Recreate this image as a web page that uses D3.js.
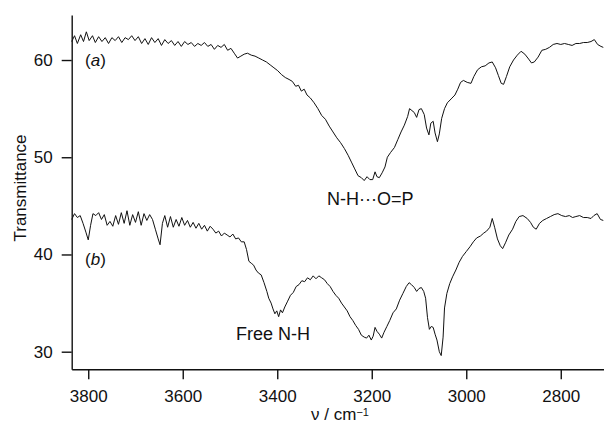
<html>
<head>
    <script src="https://d3js.org/d3.v7.min.js"></script>
    <style>
        body { margin: 0; background: #fff; }
        svg text {
            font-family: "Liberation Sans", Arial, Helvetica, sans-serif;
            fill: #111;
        }
        .axis path, .axis line { stroke: #111; stroke-width: 1.4; }
        .axis text { font-size: 17px; }
        .spec { fill: none; stroke: #111; stroke-width: 1; }
    </style>
</head>
<body>
<script>
        // wavenumber (cm-1) / transmittance pairs
        var waveA = [3835,3829,3823,3816,3810,3804,3798,3791,3785,3778,3771,3764,3757,3750,3743,3736,3729,3722,3715,3708,3701,3694,3687,3680,3673,3666,3659,3652,3645,3638,3631,3624,3617,3610,3603,3596,3589,3582,3575,3568,3561,3554,3547,3540,3533,3526,3519,3512,3505,3498,3491,3484,3477,3470,3463,3455,3447,3439,3431,3423,3415,3407,3399,3391,3383,3375,3368,3361,3355,3349,3343,3337,3330,3322,3314,3306,3298,3290,3282,3274,3266,3258,3250,3243,3236,3229,3222,3216,3210,3204,3198,3193,3189,3184,3178,3172,3167,3160,3152,3145,3138,3131,3124,3120,3115,3110,3105,3100,3095,3089,3084,3079,3075,3070,3066,3061,3057,3052,3046,3040,3032,3024,3018,3012,3006,2998,2990,2984,2976,2968,2960,2952,2945,2938,2932,2926,2921,2915,2908,2900,2892,2884,2876,2868,2862,2856,2848,2840,2832,2824,2816,2808,2800,2792,2784,2776,2768,2760,2752,2744,2736,2729,2722,2715,2710];
        var transA = [61.9,62.5,61.7,62.6,61.9,62.9,62.0,62.5,61.8,62.4,61.9,62.3,61.7,62.3,62.0,62.4,61.8,62.3,62.1,62.5,62.0,62.4,61.7,62.2,61.6,62.3,61.8,62.2,61.5,62.1,61.7,62.0,61.5,61.9,61.4,61.9,61.6,61.8,61.4,61.7,61.5,61.8,61.4,61.6,61.1,61.5,61.3,61.6,61.0,61.2,60.7,60.2,60.4,60.6,60.7,60.5,60.4,60.2,60.0,59.8,59.5,59.2,58.9,58.5,58.2,58.0,57.8,57.3,57.4,56.8,57.0,56.4,56.1,55.6,55.0,54.3,53.9,53.2,52.6,52.0,51.5,50.9,50.2,49.5,48.8,48.1,47.9,47.6,48.0,47.7,47.7,48.5,48.0,47.9,48.4,49.0,50.0,50.5,51.0,51.8,52.6,53.3,54.2,55.0,54.8,54.6,54.1,54.9,55.0,54.4,53.0,52.3,53.5,53.7,52.5,51.6,52.4,54.0,55.0,55.6,56.0,56.4,57.0,57.7,57.9,57.7,57.6,58.3,59.0,59.3,59.4,59.7,59.8,59.2,58.4,57.6,57.5,58.3,59.3,60.0,60.5,60.9,60.6,60.1,59.7,59.8,60.3,61.0,61.1,61.3,61.6,61.7,61.6,61.7,61.6,61.5,61.7,61.7,61.8,61.8,61.9,62.1,61.6,61.4,61.3];

        var waveB = [3835,3829,3823,3817,3811,3805,3800,3795,3790,3784,3778,3772,3766,3760,3754,3748,3742,3736,3730,3724,3718,3712,3706,3700,3694,3688,3682,3676,3670,3664,3658,3652,3648,3643,3638,3632,3626,3620,3614,3608,3602,3596,3590,3584,3578,3572,3566,3560,3554,3548,3542,3536,3530,3524,3518,3512,3506,3500,3494,3488,3482,3476,3470,3465,3460,3455,3450,3445,3440,3434,3428,3422,3418,3413,3409,3405,3401,3397,3393,3389,3384,3378,3372,3366,3360,3354,3348,3342,3336,3330,3324,3318,3312,3306,3300,3294,3288,3282,3276,3270,3264,3258,3252,3246,3240,3234,3228,3222,3216,3211,3206,3201,3197,3193,3189,3184,3179,3174,3168,3162,3155,3148,3141,3134,3127,3121,3116,3110,3105,3100,3095,3090,3086,3082,3078,3074,3070,3066,3062,3057,3053,3049,3046,3041,3035,3029,3022,3015,3008,3000,2992,2985,2978,2970,2963,2957,2950,2945,2940,2934,2928,2923,2917,2910,2902,2895,2888,2880,2871,2864,2858,2852,2845,2838,2830,2822,2814,2806,2798,2790,2782,2775,2768,2760,2752,2744,2736,2730,2723,2716,2710];
        var transB = [43.6,44.2,43.8,44.0,43.2,42.3,41.5,43.0,44.2,44.0,44.3,43.6,44.1,43.0,43.4,42.9,44.0,43.1,44.3,43.2,44.5,43.0,44.1,43.3,44.4,43.0,44.2,43.5,44.1,43.6,42.6,41.6,41.0,43.2,44.0,42.8,43.9,42.8,43.6,42.9,43.8,43.0,43.5,42.8,43.3,42.7,43.2,42.6,43.0,42.4,42.9,42.6,42.2,42.4,41.9,42.2,42.0,41.8,42.1,41.6,41.7,41.3,41.3,40.5,39.3,39.1,38.9,38.4,38.1,37.9,37.1,36.2,35.5,35.0,34.4,33.9,34.2,33.6,34.3,34.0,34.6,35.2,35.8,36.1,36.7,36.9,37.3,37.2,37.6,37.4,37.8,37.5,37.8,37.6,37.4,37.0,36.7,36.2,35.8,35.5,35.0,34.6,34.2,33.6,33.2,32.7,32.3,31.7,31.5,31.4,31.7,31.2,31.6,32.5,32.1,31.8,31.4,32.0,32.6,33.2,34.0,34.4,35.3,36.0,36.7,37.1,36.9,36.6,36.2,36.5,36.6,36.2,35.5,33.5,32.3,32.6,32.5,31.8,31.2,30.0,29.6,31.5,34.5,36.0,37.0,37.7,38.4,39.2,39.8,40.3,40.8,41.3,41.7,41.9,42.2,42.4,42.8,43.7,42.8,41.6,40.9,40.6,41.2,42.0,42.6,43.4,43.9,44.0,43.7,43.3,42.8,42.6,43.2,43.5,43.7,43.9,44.1,44.2,44.0,43.9,44.0,43.8,43.9,44.0,43.8,43.8,43.7,44.0,44.2,43.6,43.5];

        var xTicks = [3800, 3600, 3400, 3200, 3000, 2800];
        var yTicks = [30, 40, 50, 60];

        var width = 604, height = 423;
        var plotLeft = 71.7, plotTop = 15, plotRight = 604, plotBottom = 369.3;

        var svg = d3.select("body").append("svg")
            .attr("width", width)
            .attr("height", height);

        var x = d3.scaleLinear().domain([3835, 2708.5]).range([plotLeft, plotRight]);
        var y = d3.scaleLinear().domain([28.19, 64.63]).range([plotBottom, plotTop]);

        var line = d3.line()
            .x(function(d) { return x(d[0]); })
            .y(function(d) { return y(d[1]); });

        svg.append("path").attr("class", "spec")
            .attr("d", line(d3.zip(waveA, transA)));
        svg.append("path").attr("class", "spec")
            .attr("d", line(d3.zip(waveB, transB)));

        svg.append("g").attr("class", "axis")
            .attr("transform", "translate(0," + plotBottom + ")")
            .call(d3.axisBottom(x).tickValues(xTicks).tickSize(10).tickSizeOuter(0).tickPadding(10.5).tickFormat(d3.format("d")));

        svg.append("g").attr("class", "axis")
            .attr("transform", "translate(" + plotLeft + ",0)")
            .call(d3.axisLeft(y).tickValues(yTicks).tickSize(10).tickSizeOuter(0).tickPadding(9));

        svg.selectAll(".axis text").style("font-family", "'Liberation Sans', Arial, sans-serif");

        // axis titles
        svg.append("text")
            .attr("transform", "translate(26,188) rotate(-90)")
            .attr("text-anchor", "middle")
            .style("font-size", "17px")
            .text("Transmittance");

        var xl = svg.append("text")
            .attr("x", 340).attr("y", 420)
            .attr("text-anchor", "middle")
            .style("font-size", "17px");
        xl.append("tspan").text("ν / cm");
        xl.append("tspan").attr("dy", -4).style("font-size", "11px").text("−1");

        // annotations
        var a = svg.append("text").attr("x", 85).attr("y", 66).style("font-size", "17px");
        a.append("tspan").text("(");
        a.append("tspan").style("font-style", "italic").text("a");
        a.append("tspan").text(")");

        var b = svg.append("text").attr("x", 85).attr("y", 265).style("font-size", "17px");
        b.append("tspan").text("(");
        b.append("tspan").style("font-style", "italic").text("b");
        b.append("tspan").text(")");

        svg.append("text").attr("x", 327).attr("y", 205)
            .style("font-size", "18px").text("N-H\u00b7\u00b7\u00b7O=P");
        svg.append("text").attr("x", 236).attr("y", 340)
            .style("font-size", "18px").text("Free N-H");
</script>
</body>
</html>
